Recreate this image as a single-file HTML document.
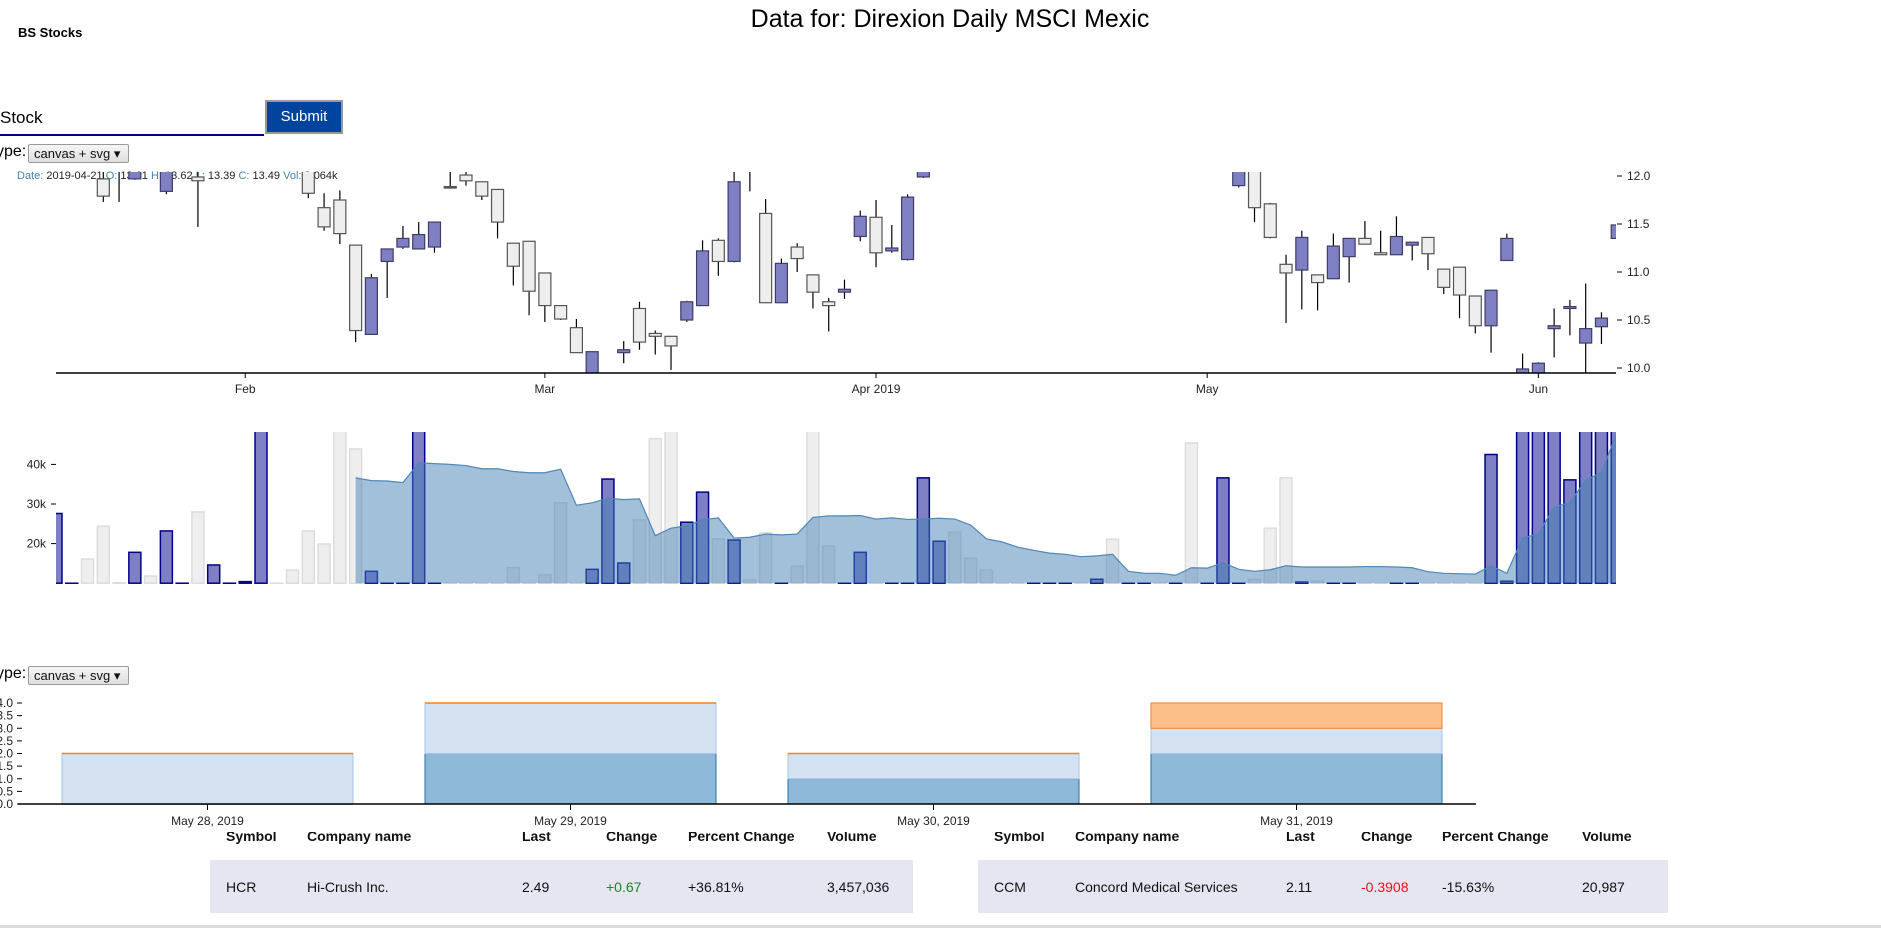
<!DOCTYPE html>
<html><head><meta charset="utf-8">
<style>
body{margin:0;width:1881px;height:928px;overflow:hidden;background:#fff;font-family:"Liberation Sans",sans-serif;position:relative}
.abs{position:absolute}
.sel{position:absolute;border:1px solid #999;border-radius:2px;background:linear-gradient(#f6f6f6,#dedede);font-size:13px;line-height:17px;padding:0 5px;box-sizing:border-box;height:19px;width:101px;color:#111}
.th{position:absolute;font-weight:bold;font-size:14px;color:#111;top:828px}
.td{position:absolute;font-size:14px;color:#111;top:879px}
</style></head><body>
<div class="abs" style="left:18px;top:25px;font-weight:bold;font-size:13px">BS Stocks</div>
<div class="abs" style="left:0;width:1900px;text-align:center;top:5px;font-size:25px">Data for: Direxion Daily MSCI Mexic</div>
<div class="abs" style="left:0;top:104px;width:264px;height:30px;border-bottom:2px solid #000080;font-size:17px;line-height:28px">Stock</div>
<div class="abs" style="left:265px;top:100px;width:78px;height:34px;background:#00449e;border:2px solid #999;box-sizing:border-box;color:#fff;font-size:15px;text-align:center;line-height:30px">Submit</div>
<div class="abs" style="left:-4px;top:143px;font-size:16px">ype:</div>
<div class="sel" style="left:28px;top:144px">canvas + svg ▾</div>
<div class="abs" style="left:-4px;top:665px;font-size:16px">ype:</div>
<div class="sel" style="left:28px;top:666px">canvas + svg ▾</div>

<div class="abs" style="left:210px;top:860px;width:703px;height:53px;background:#e6e5f2"></div>
<div class="abs" style="left:978px;top:860px;width:690px;height:53px;background:#e6e5f2"></div>
<div class="th" style="left:226px">Symbol</div>
<div class="th" style="left:307px">Company name</div>
<div class="th" style="left:522px">Last</div>
<div class="th" style="left:606px">Change</div>
<div class="th" style="left:688px">Percent Change</div>
<div class="th" style="left:827px">Volume</div>
<div class="td" style="left:226px">HCR</div>
<div class="td" style="left:307px">Hi-Crush Inc.</div>
<div class="td" style="left:522px">2.49</div>
<div class="td" style="left:606px;color:#1a8a1a">+0.67</div>
<div class="td" style="left:688px">+36.81%</div>
<div class="td" style="left:827px">3,457,036</div>
<div class="th" style="left:994px">Symbol</div>
<div class="th" style="left:1075px">Company name</div>
<div class="th" style="left:1286px">Last</div>
<div class="th" style="left:1361px">Change</div>
<div class="th" style="left:1442px">Percent Change</div>
<div class="th" style="left:1582px">Volume</div>
<div class="td" style="left:994px">CCM</div>
<div class="td" style="left:1075px">Concord Medical Services</div>
<div class="td" style="left:1286px">2.11</div>
<div class="td" style="left:1361px;color:#f01010">-0.3908</div>
<div class="td" style="left:1442px">-15.63%</div>
<div class="td" style="left:1582px">20,987</div>
<div class="abs" style="left:0;top:925px;width:1881px;height:3px;background:#ddd"></div>

<svg id="chart" class="abs" style="left:0;top:0" width="1881" height="832" xmlns="http://www.w3.org/2000/svg">
<defs>
<clipPath id="cc"><rect x="56" y="172" width="1560" height="201"/></clipPath>
<clipPath id="vc"><rect x="56" y="432" width="1560" height="152"/></clipPath>
</defs>
<rect x="0" y="826" width="1881" height="6" fill="#fff"/>
</svg>
<script>
// slot index of the first entry
const firstSlot = -3;
const opens = [
12.3,12.4,12.5,11.97,12.2,11.97,12.4,11.84,12.2,11.99,
12.3,12.4,12.5,12.5,12.8,12.6,12.2,11.67,11.75,11.28,
10.35,11.11,11.26,11.24,11.26,11.89,12.01,11.94,11.86,11.30,
11.32,10.99,10.65,10.42,9.9,9.8,10.16,10.62,10.36,10.33,
10.50,10.65,11.33,11.11,12.3,11.61,10.68,11.26,10.97,10.69,
10.79,11.37,11.57,11.22,11.13,11.99,12.2,12.6,12.5,12.4,
12.3,12.3,12.2,12.3,12.4,12.5,12.4,12.5,12.3,12.4,
12.5,12.4,12.6,12.4,12.4,11.90,12.1,11.71,11.08,11.02,
10.97,10.93,11.16,11.35,11.20,11.18,11.28,11.36,11.03,11.05,
10.75,10.44,11.12,9.9,9.93,10.41,10.62,10.26,10.43,11.35];
const closes = [
12.5,12.5,12.2,11.79,12.1,12.1,12.2,12.1,12.3,11.95,
12.4,12.5,12.6,12.8,12.6,12.4,11.82,11.47,11.40,10.39,
10.94,11.24,11.35,11.39,11.52,11.89,11.95,11.79,11.52,11.06,
10.80,10.65,10.51,10.16,10.17,9.9,10.19,10.27,10.33,10.23,
10.69,11.22,11.11,11.94,12.1,10.68,11.09,11.14,10.79,10.65,
10.82,11.58,11.20,11.25,11.78,12.2,12.4,12.4,12.3,12.2,
12.2,12.2,12.3,12.4,12.5,12.4,12.5,12.3,12.4,12.5,
12.4,12.5,12.4,12.5,12.6,12.2,11.67,11.36,10.99,11.36,
10.89,11.27,11.35,11.29,11.18,11.37,11.31,11.19,10.84,10.76,
10.44,10.81,11.35,9.99,10.05,10.44,10.64,10.41,10.52,11.49];
const highs = [
12.6,12.6,12.6,12.05,12.3,12.2,12.5,12.2,12.4,12.1,
12.5,12.6,12.7,12.9,12.9,12.7,12.3,11.82,11.85,11.28,
10.98,11.24,11.48,11.52,11.52,12.1,12.05,11.94,11.86,11.30,
11.32,10.99,10.65,10.51,10.17,9.93,10.28,10.69,10.39,10.33,
10.70,11.33,11.35,12.1,12.4,11.76,11.14,11.30,10.97,10.73,
10.92,11.64,11.75,11.49,11.81,12.3,12.5,12.7,12.6,12.5,
12.4,12.4,12.4,12.5,12.6,12.6,12.6,12.6,12.5,12.6,
12.6,12.6,12.7,12.6,12.7,12.3,12.2,11.72,11.18,11.43,
10.97,11.40,11.35,11.53,11.43,11.58,11.31,11.36,11.03,11.05,
10.75,10.81,11.40,10.15,10.06,10.62,10.71,10.88,10.58,11.67];
const lows = [
12.2,12.3,12.1,11.73,11.73,11.96,12.15,11.81,12.1,11.47,
12.2,12.3,12.4,12.4,12.5,12.3,11.77,11.43,11.29,10.27,
10.35,10.73,11.24,11.24,11.20,11.88,11.90,11.75,11.35,10.86,
10.55,10.48,10.50,10.16,9.85,9.7,10.05,10.19,10.14,9.98,
10.48,10.65,10.96,11.10,11.84,10.68,10.68,11.00,10.62,10.38,
10.72,11.32,11.05,11.20,11.12,11.98,12.1,12.3,12.2,12.1,
12.1,12.1,12.1,12.2,12.3,12.3,12.3,12.2,12.2,12.3,
12.3,12.3,12.3,12.3,12.3,11.88,11.52,11.35,10.47,10.61,
10.60,10.93,10.89,11.29,11.18,11.18,11.12,11.02,10.77,10.52,
10.36,10.16,11.12,9.85,9.9,10.11,10.34,9.95,10.25,11.18];
// volume in thousands
const volumes = [27.6,10.0,16.1,24.4,10.1,17.8,11.8,23.2,10.0,28.0,14.6,10.0,10.4,60,10.0,13.3,23.2,19.9,55,43.9,13.0,10,10,60,10,10,10,10,10,13.9,10,12.1,30.3,10,13.5,36.3,15.1,26.0,46.5,50,25.4,33.0,21.2,20.9,10.8,22.7,10,14.3,52,19.4,10,17.8,10,10,10,36.6,20.6,22.9,16.3,13.3,10,10,10,10,10,10,11.0,21.1,10,10,10,10,45.4,10,36.6,10,11.0,23.9,36.6,10.3,10.5,10,10,10,10,10,10,10,10,10,10,42.5,10.5,60,60,60,36.1,60,60,60];
// volume moving average (thousands), starting at slot 16
const avgStart = 16;
const avgVolumes = [36.6,35.9,35.8,35.4,40.4,40.2,40.0,39.7,38.9,38.9,38.2,37.9,37.9,38.8,29.7,30.3,31.5,31.1,31.3,22.0,23.9,24.5,26.0,26.5,21.4,21.6,22.4,22.2,22.4,26.6,27.0,27.0,27.1,26.2,26.5,26.1,26.2,26.4,26.2,24.7,21.2,20.4,19.1,18.3,17.6,17.3,16.7,16.9,17.3,13.0,12.5,12.5,12.0,13.9,13.8,15.2,13.5,13.0,13.4,14.4,14.1,14.1,14.1,14.1,14.2,14.2,14.1,13.9,12.9,12.5,12.4,12.3,14.4,12.5,21.4,22.5,29.2,30.4,36.0,38.0,48.2];
const monthTickLabels = ["Feb","Mar","Apr 2019","May","Jun"];
const monthTickSlots = [9,28,49,70,91];
const priceTicks = [10.0,10.5,11.0,11.5,12.0];
const volumeTicks = [20,30,40];
// bottom stacked chart
const dayLabels = ["May 28, 2019","May 29, 2019","May 30, 2019","May 31, 2019"];
const seriesA = [0,2,1,2];
const seriesB = [2,2,1,1];
const seriesC = [0,0,0,1];
const stackTicks = [0,0.5,1,1.5,2,2.5,3,3.5,4];

const NS="http://www.w3.org/2000/svg";
const svg=document.getElementById('chart');
function mk(tag,attrs,parent){const e=document.createElementNS(NS,tag);for(const k in attrs)e.setAttribute(k,attrs[k]);(parent||svg).appendChild(e);return e;}
const xS=s=>103.3+s*15.77;
const yP=p=>368-(p-10)*96;
const yV=v=>583.2-(v-10)*3.96;

// tooltip text
const tt=mk('text',{x:17,y:179,'font-size':11,fill:'#222'});


[["Date: ","2019-04-21"],[" O: ","13.61"],[" H: ","13.62"],[" L: ","13.39"],[" C: ","13.49"],[" Vol: ","8.064k"]].forEach(p=>{const a=mk('tspan',{fill:'#4682b4'},tt);a.textContent=p[0];const b=mk('tspan',{},tt);b.textContent=p[1];});

// candles
const cg=mk('g',{'clip-path':'url(#cc)'});


for(let i=0;i<opens.length;i++){
  const s=firstSlot+i,x=xS(s),o=opens[i],c=closes[i];
  const up=c>o,doji=Math.abs(c-o)<0.005;
  const w=mk('line',{x1:x,x2:x,y1:yP(highs[i]),y2:yP(lows[i]),stroke:'#000','stroke-width':1.2},cg);
  
  
  const top=yP(Math.max(o,c)),bot=yP(Math.min(o,c));
  const r=mk('rect',{x:x-6,y:top,width:12,height:Math.max(bot-top,1.5),fill:doji?'#555':(up?'#7f7fc4':'#eeeeee'),stroke:up?'#3d3d66':'#555','stroke-width':1.2},cg);
  
  
}
// x axis
mk('line',{x1:56,x2:1616,y1:373,y2:373,stroke:'#000','stroke-width':1.5});
monthTickLabels.forEach((l,i)=>{const x=xS(monthTickSlots[i]);mk('line',{x1:x,x2:x,y1:373,y2:378,stroke:'#000'});
 const t=mk('text',{x:x,y:393,'font-size':12,'text-anchor':'middle',fill:'#222'});t.textContent=l;
 
 });
priceTicks.forEach(p=>{const y=yP(p);mk('line',{x1:1617,x2:1622,y1:y,y2:y,stroke:'#000'});
 const t=mk('text',{x:1627,y:y+4,'font-size':12,fill:'#222'});t.textContent=p.toFixed(1);
 
 });

// volume bars
const vg=mk('g',{'clip-path':'url(#vc)'});


for(let i=0;i<volumes.length;i++){
  const s=firstSlot+i,x=xS(s),up=closes[i]>opens[i];
  const y=yV(volumes[i]);
  const r=mk('rect',{x:x-6,y:y,width:12,height:Math.max(583.2-y,0.5),fill:up?'#7f7fc4':'#eeeeee',stroke:up?'#00008b':'#dddddd','stroke-width':1.5},vg);
  
  
}
// average area
let d='M'+xS(avgStart)+','+583.2;
avgVolumes.forEach((v,i)=>{d+=' L'+xS(avgStart+i)+','+yV(v);});
d+=' L'+xS(avgStart+avgVolumes.length-1)+',583.2 Z';
const ar=mk('path',{d:d,fill:'rgba(70,130,180,0.5)',stroke:'none'},vg);


let dl='';avgVolumes.forEach((v,i)=>{dl+=(i?' L':'M')+xS(avgStart+i)+','+yV(v);});
const al=mk('path',{d:dl,fill:'none',stroke:'#4f87b9','stroke-width':1.2},vg);


volumeTicks.forEach(v=>{const y=yV(v);mk('line',{x1:51,x2:56,y1:y,y2:y,stroke:'#000'});
 const t=mk('text',{x:46,y:y+4,'font-size':12,'text-anchor':'end',fill:'#222'});t.textContent=v+'k';
 
 });

// stacked chart
const yS=v=>804-v*25.25;
const bx=i=>62+i*363;
const bw=291;
dayLabels.forEach((l,i)=>{
  const x=bx(i);let base=0;
  [[seriesA[i],'#8fb9d9','#2a6fa8','segment-a'],[seriesB[i],'#d5e2f2','#a6c4e6','segment-b'],[seriesC[i],'#fdbf88','#f5811f','segment-c']].forEach(sg=>{
    const y0=yS(base),y1=yS(base+sg[0]);
    if(y0-y1>0){
      const r=mk('rect',{x:x,y:y1,width:bw,height:y0-y1,fill:sg[1],stroke:sg[2],'stroke-width':1});
      
      
    } else {
      const ln=mk('line',{x1:x,x2:x+bw,y1:y1,y2:y1,stroke:sg[2],'stroke-width':1.5});
      
      
    }
    base+=sg[0];
  });
  const cx=x+bw/2;mk('line',{x1:cx,x2:cx,y1:804,y2:810,stroke:'#000'});
  const t=mk('text',{x:cx,y:825,'font-size':12,'text-anchor':'middle',fill:'#222'});t.textContent=l;
  
  
});
mk('line',{x1:18,x2:1476,y1:804,y2:804,stroke:'#000','stroke-width':1.5});
stackTicks.forEach(v=>{const y=yS(v);mk('line',{x1:17,x2:22,y1:y,y2:y,stroke:'#000'});
 const t=mk('text',{x:13,y:y+4,'font-size':12,'text-anchor':'end',fill:'#222'});t.textContent=v.toFixed(1);
 
 });
</script>
</body></html>
